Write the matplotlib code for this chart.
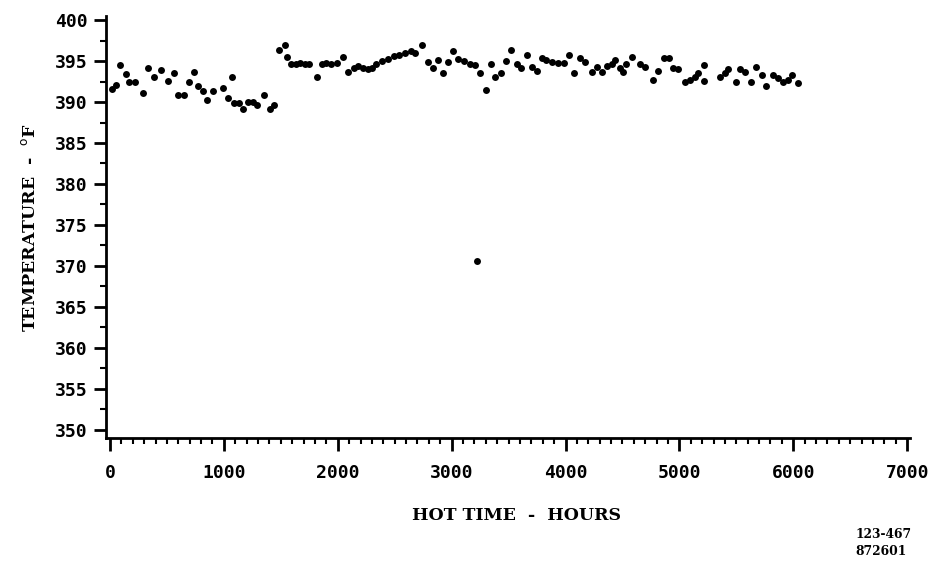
import matplotlib
matplotlib.use("Agg")
import matplotlib.pyplot as plt
from matplotlib.ticker import MultipleLocator

# Data (hot time in hours, temperature in deg F)
hours_early = [15, 55, 88, 140, 170, 220, 290, 334, 386, 445, 509, 562, 600, 650,
               694, 737, 770, 820, 849, 902, 992, 1036, 1071, 1090, 1130, 1165,
               1212, 1256, 1290, 1352, 1405, 1440]
temps_early = [391.6, 392.1, 394.5, 393.4, 392.4, 392.4, 391.1, 394.2, 393.0, 393.9,
               392.6, 393.6, 390.9, 390.9, 392.4, 393.7, 391.9, 391.4, 390.2, 391.3,
               391.7, 390.5, 393.0, 389.9, 389.9, 389.1, 390.0, 390.0, 389.6, 390.8,
               389.1, 389.6]

hours_late = [1487, 1536, 1551, 1590, 1630, 1670, 1710, 1750, 1815, 1860, 1900, 1945,
              1990, 2043, 2087, 2140, 2180, 2220, 2265, 2300, 2340, 2390, 2440, 2490,
              2540, 2590, 2640, 2678, 2737, 2792, 2836, 2880, 2924, 2968, 3015, 3060,
              3110, 3160, 3205, 3248, 3298, 3345, 3380, 3430, 3474, 3521, 3571, 3608,
              3658, 3702, 3752, 3790, 3830, 3880, 3930, 3990, 4033, 4077, 4126, 4170,
              4229, 4273, 4317, 4361, 4405, 4434, 4478, 4507, 4530, 4580, 4653, 4697,
              4764, 4808, 4864, 4910, 4946, 4990, 5048, 5092, 5136, 5165, 5215, 5218,
              5356, 5400, 5429, 5496, 5531, 5575, 5628, 5672, 5722, 5760, 5824, 5867,
              5911, 5955, 5985, 6043]
temps_late = [396.3, 397.0, 395.5, 394.7, 394.7, 394.8, 394.7, 394.7, 393.1, 394.6,
              394.8, 394.6, 394.8, 395.5, 393.7, 394.1, 394.4, 394.2, 394.0, 394.2,
              394.6, 395.0, 395.3, 395.6, 395.8, 396.0, 396.2, 396.0, 397.0, 394.9,
              394.2, 395.1, 393.6, 394.9, 396.2, 395.3, 395.0, 394.7, 394.5, 393.6,
              391.5, 394.7, 393.0, 393.6, 395.0, 396.3, 394.6, 394.1, 395.8, 394.3,
              393.8, 395.4, 395.1, 394.9, 394.8, 394.8, 395.8, 393.6, 395.4, 394.9,
              393.7, 394.3, 393.7, 394.4, 394.7, 395.1, 394.1, 393.7, 394.7, 395.5,
              394.7, 394.3, 392.7, 393.8, 395.4, 395.4, 394.1, 394.0, 392.5, 392.7,
              393.1, 393.5, 394.5, 392.6, 393.1, 393.5, 394.0, 392.5, 394.0, 393.7,
              392.5, 394.3, 393.3, 392.0, 393.3, 392.9, 392.5, 392.7, 393.3, 392.3]

hours_outlier = [3222]
temps_outlier = [370.6]

x_ticks = [0, 1000, 2000, 3000, 4000, 5000, 6000, 7000]
y_ticks = [350, 355, 360, 365, 370, 375, 380, 385, 390, 395, 400]

fig = plt.figure(figsize=(9.3, 5.65), dpi=100)
ax = fig.add_axes([106 / 930, 1 - 438 / 565, (910 - 106) / 930, (438 - 16) / 565])

for hx, ty in [(hours_early, temps_early), (hours_late, temps_late),
               (hours_outlier, temps_outlier)]:
    ax.plot(hx, ty, linestyle="none", marker="o", markersize=5.0,
            color="black", markeredgewidth=0)

ax.set_xlim(-35, 7025)
ax.set_ylim(349.0, 400.5)
ax.set_xticks(x_ticks)
ax.set_yticks(y_ticks)
ax.xaxis.set_minor_locator(MultipleLocator(100))
ax.yaxis.set_minor_locator(MultipleLocator(2.5))

for s in ["top", "right"]:
    ax.spines[s].set_visible(False)
for s in ["left", "bottom"]:
    ax.spines[s].set_linewidth(2.0)
    ax.spines[s].set_color("black")

ax.tick_params(axis="both", which="major", length=9, width=2.0, direction="out",
               color="black")
ax.tick_params(axis="both", which="minor", length=4, width=1.5, direction="out",
               color="black")
ax.tick_params(axis="x", which="major", pad=10)
ax.tick_params(axis="y", which="major", pad=4)

tick_font = dict(family="DejaVu Sans Mono", weight="bold", size=13)
ax.set_xticklabels([str(v) for v in x_ticks], fontdict=tick_font)
ax.set_yticklabels([str(v) for v in y_ticks], fontdict=tick_font)

label_font = dict(family="DejaVu Serif", weight="bold", size=12.5)
ax.set_xlabel("HOT TIME  -  HOURS", fontdict=label_font)
ax.xaxis.set_label_coords(0.511, -0.163)
ax.set_ylabel(r"TEMPERATURE  -  $^{\mathrm{o}}$F", fontdict=label_font, labelpad=12)

fig.text(855 / 930, 1 - 543 / 565, "123-467\n872601", family="DejaVu Serif",
         weight="bold", size=8.8, ha="left", va="center", linespacing=1.35)

fig.savefig("out.png", dpi=100, facecolor="white")
